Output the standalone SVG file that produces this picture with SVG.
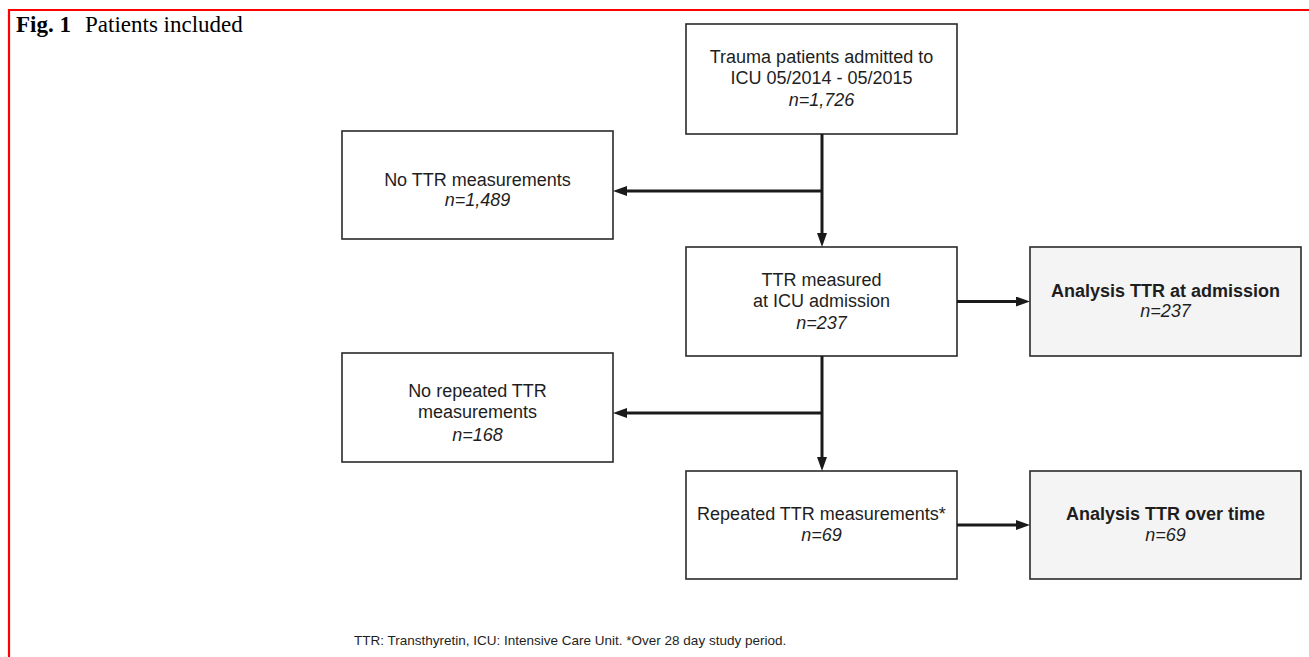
<svg xmlns="http://www.w3.org/2000/svg" width="1309" height="657" viewBox="0 0 1309 657">
<style>
.box{fill:#fff;stroke:#2a2a2a;stroke-width:1.6}
.res{fill:#f4f4f4;stroke:#2a2a2a;stroke-width:1.6}
.t{font-family:"Liberation Sans",Arial,sans-serif;font-size:18px;fill:#1e1e1e;text-anchor:middle}
.b{font-weight:bold}
.i{font-style:italic}
.con{stroke:#1a1a1a;stroke-width:3;fill:none;marker-end:url(#ah)}
.cap{font-family:"Liberation Serif","Times New Roman",serif;font-size:23px;fill:#000}
</style>
<defs>
<marker id="ah" markerUnits="userSpaceOnUse" viewBox="0 0 14 10" refX="2" refY="5" markerWidth="14" markerHeight="10" orient="auto">
<path d="M0,0 L14,5 L0,10 z" fill="#1a1a1a"/>
</marker>
</defs>
<rect width="1309" height="657" fill="#fff"/>
<path d="M9 657 V10 H1309" fill="none" stroke="#ff0000" stroke-width="2.2"/>
<g id="caption">
<text class="cap" x="16" y="32" font-weight="bold">Fig. 1</text>
<text class="cap" x="85" y="32">Patients included</text>
</g>
<g id="n1">
<rect class="box" x="686" y="24" width="271" height="110"/>
<text class="t" x="821.5" y="63">Trauma patients admitted to</text>
<text class="t" x="821.5" y="84">ICU 05/2014 - 05/2015</text>
<text class="t i" x="821.5" y="106">n=1,726</text>
</g>
<g id="n2">
<rect class="box" x="342" y="131" width="271" height="108"/>
<text class="t" x="477.5" y="186">No TTR measurements</text>
<text class="t i" x="477.5" y="206">n=1,489</text>
</g>
<g id="n3">
<rect class="box" x="686" y="247" width="271" height="109"/>
<text class="t" x="821.5" y="286">TTR measured</text>
<text class="t" x="821.5" y="307">at ICU admission</text>
<text class="t i" x="821.5" y="329">n=237</text>
</g>
<g id="n4">
<rect class="res" x="1030" y="247" width="271" height="109"/>
<text class="t b" x="1165.5" y="297">Analysis TTR at admission</text>
<text class="t i" x="1165.5" y="317">n=237</text>
</g>
<g id="n5">
<rect class="box" x="342" y="353" width="271" height="109"/>
<text class="t" x="477.5" y="397">No repeated TTR</text>
<text class="t" x="477.5" y="418">measurements</text>
<text class="t i" x="477.5" y="441">n=168</text>
</g>
<g id="n6">
<rect class="box" x="686" y="471" width="271" height="108"/>
<text class="t" x="821.5" y="520">Repeated TTR measurements*</text>
<text class="t i" x="821.5" y="541">n=69</text>
</g>
<g id="n7">
<rect class="res" x="1030" y="471" width="271" height="108"/>
<text class="t b" x="1165.5" y="520">Analysis TTR over time</text>
<text class="t i" x="1165.5" y="541">n=69</text>
</g>
<g id="connectors">
<path class="con" d="M822 134 V235"/>
<path class="con" d="M822 191 H625"/>
<path class="con" d="M957 301.5 H1018"/>
<path class="con" d="M822 356 V459"/>
<path class="con" d="M822 413 H625"/>
<path class="con" d="M957 525 H1018"/>
</g>
<text x="354" y="645" font-family="'Liberation Sans',Arial,sans-serif" font-size="13.5" fill="#1e1e1e">TTR: Transthyretin, ICU: Intensive Care Unit. *Over 28 day study period.</text>
</svg>
